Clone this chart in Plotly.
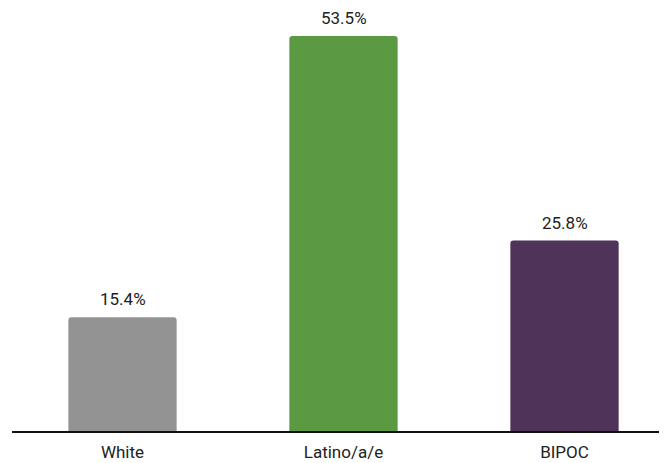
import plotly.graph_objects as go

categories = ["White", "Latino/a/e", "BIPOC"]
values = [15.4, 53.5, 25.8]
labels = ["15.4%", "53.5%", "25.8%"]
colors = ["#949394", "#5b9a42", "#4f3358"]

fig = go.Figure(go.Bar(
    x=categories, y=values,
    marker=dict(color=colors, line=dict(width=0), cornerradius=3),
    width=0.49,
))
for c, v, t in zip(categories, values, labels):
    fig.add_annotation(x=c, y=v, text=t, showarrow=False, yanchor="bottom", yshift=6,
                       font=dict(family="Roboto", size=17, color="#222222"))
fig.update_layout(
    width=667, height=463,
    margin=dict(l=4, r=0, t=0, b=40),
    paper_bgcolor="white", plot_bgcolor="white",
    showlegend=False,
    font=dict(family="Roboto", size=17, color="#222222"),
)
fig.update_xaxes(range=[-0.5, 2.5], showline=True, linecolor="#111111", linewidth=1.5,
                 ticks="", ticklabelstandoff=5,
                 tickfont=dict(family="Roboto", size=17, color="#222222"))
fig.update_yaxes(range=[0, 57.3], visible=False, showgrid=False, zeroline=False)
fig.write_html("out.html")
